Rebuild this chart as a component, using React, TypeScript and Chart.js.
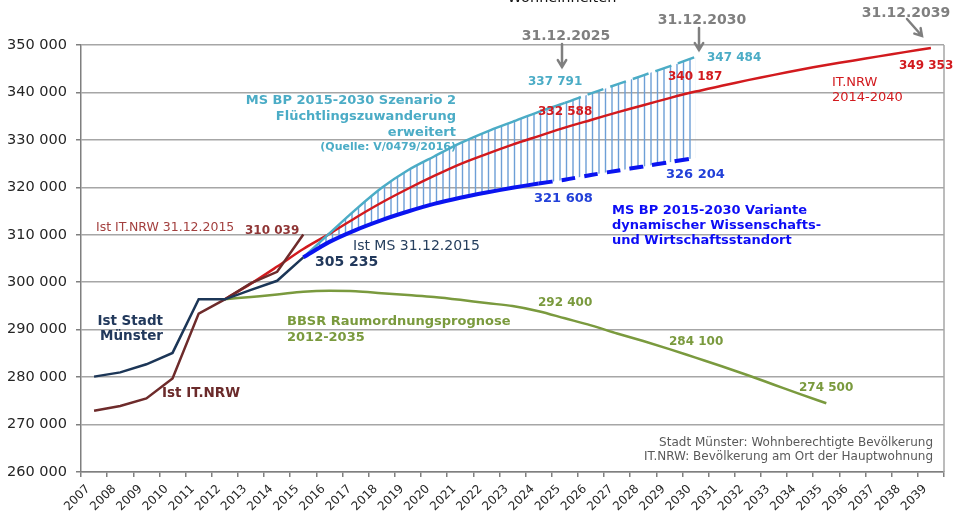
import React, { useEffect, useRef } from "react";
import { Chart, registerables } from "chart.js";

Chart.register(...registerables);

const FONT = "'DejaVu Sans', Verdana, sans-serif";

const years = [
  "2007", "2008", "2009", "2010", "2011", "2012", "2013", "2014", "2015", "2016", "2017",
  "2018", "2019", "2020", "2021", "2022", "2023", "2024", "2025", "2026", "2027", "2028",
  "2029", "2030", "2031", "2032", "2033", "2034", "2035", "2036", "2037", "2038", "2039",
];

const N = null;

// Ist Stadt Münster (2007-2015)
const istStadtMuenster = [
  280100, 281000, 282700, 285100, 296400, 296400, 298400, 300300, 305235,
  N, N, N, N, N, N, N, N, N, N, N, N, N, N, N, N, N, N, N, N, N, N, N, N,
];

// Ist IT.NRW (2007-2015)
const istItNrw = [
  272900, 273900, 275500, 279700, 293400, 296400, 299800, 302200, 310039,
  N, N, N, N, N, N, N, N, N, N, N, N, N, N, N, N, N, N, N, N, N, N, N, N,
];

// IT.NRW 2014-2040 Prognose
const itNrwPrognose = [
  N, N, N, N, N, 296400, 299700, 303300, 307000, 310200, 313600, 316800, 319700, 322400,
  324900, 327000, 329000, 330800, 332588, 334200, 335800, 337300, 338800, 340187, 341400,
  342600, 343700, 344800, 345800, 346700, 347600, 348500, 349353,
];

// MS BP 2015-2030 Szenario 2 Flüchtlingszuwanderung erweitert
const szenario2 = [
  N, N, N, N, N, N, N, N, 305235, 310300, 315300, 319900, 323600, 326500, 329300, 331700,
  333800, 335900, 337791, 339800, 341700, 343600, 345500, 347484,
  N, N, N, N, N, N, N, N, N,
];

// MS BP 2015-2030 Variante dynamischer Wissenschafts- und Wirtschaftsstandort
const varianteDynamisch = [
  N, N, N, N, N, N, N, N, 305235, 308500, 311000, 313100, 314900, 316500, 317800, 318900,
  319900, 320800, 321608, 322600, 323500, 324400, 325300, 326204,
  N, N, N, N, N, N, N, N, N,
];

// BBSR Raumordnungsprognose 2012-2035
const bbsr = [
  N, N, N, N, N, 296400, 296900, 297400, 298000, 298200, 298100, 297700, 297300, 296900,
  296300, 295600, 295000, 293900, 292400, 290900, 289200, 287600, 285900, 284100, 282300,
  280400, 278400, 276400, 274500, N, N, N, N,
];

const yMin = 260000;
const yMax = 350000;
const yStep = 10000;

const fmt = (v: number) => String(Math.round(v)).replace(/\B(?=(\d{3})+(?!\d))/g, " ");

const C_NAVY = "#1c3657";
const C_BROWN = "#6e2b2b";
const C_RED = "#d21a1e";
const C_CYAN = "#4bacc6";
const C_BLUE = "#0a14f0";
const C_BLUE_TXT = "#2240d8";
const C_GREEN = "#7a9a3e";
const C_GRAY = "#7f7f7f";
const C_HATCH = "#6d9fd6";

function makeHatch(): CanvasPattern | string {
  const c = document.createElement("canvas");
  c.width = 13;
  c.height = 8;
  const g = c.getContext("2d");
  if (!g) return C_HATCH;
  g.strokeStyle = C_HATCH;
  g.lineWidth = 1.4;
  g.beginPath();
  g.moveTo(1, 0);
  g.lineTo(1, 8);
  g.moveTo(7.5, 0);
  g.lineTo(7.5, 8);
  g.stroke();
  const p = g.createPattern(c, "repeat");
  return p || C_HATCH;
}

type Txt = { t: string; x: number; y: number; f: string; c: string; a?: CanvasTextAlign };

const annotationPlugin = {
  id: "annotationsPlugin",
  afterDraw(chart: any) {
    const ctx: CanvasRenderingContext2D = chart.ctx;
    const area = chart.chartArea;
    ctx.save();
    // right frame line
    ctx.strokeStyle = "#a6a6a6";
    ctx.lineWidth = 1.5;
    ctx.beginPath();
    ctx.moveTo(area.right, area.top);
    ctx.lineTo(area.right, area.bottom);
    ctx.stroke();

    const b = (s: number) => `bold ${s}px ${FONT}`;
    const r = (s: number) => `${s}px ${FONT}`;

    const texts: Txt[] = [
      { t: "31.12.2025", x: 566, y: 36, f: b(14), c: C_GRAY, a: "center" },
      { t: "31.12.2030", x: 702, y: 20.5, f: b(14), c: C_GRAY, a: "center" },
      { t: "31.12.2039", x: 906, y: 13, f: b(14), c: C_GRAY, a: "center" },

      { t: "MS BP 2015-2030 Szenario 2", x: 456, y: 101, f: b(13), c: C_CYAN, a: "right" },
      { t: "Flüchtlingszuwanderung", x: 456, y: 117, f: b(13), c: C_CYAN, a: "right" },
      { t: "erweitert", x: 456, y: 133, f: b(13), c: C_CYAN, a: "right" },
      { t: "(Quelle: V/0479/2016)", x: 456, y: 147.5, f: b(11), c: C_CYAN, a: "right" },

      { t: fmt(szenario2[18] as number), x: 528, y: 82, f: b(12), c: C_CYAN, a: "left" },
      { t: fmt(szenario2[23] as number), x: 707, y: 58, f: b(12), c: C_CYAN, a: "left" },

      { t: fmt(itNrwPrognose[18] as number), x: 538, y: 112, f: b(12), c: C_RED, a: "left" },
      { t: fmt(itNrwPrognose[23] as number), x: 668, y: 77, f: b(12), c: C_RED, a: "left" },
      { t: fmt(itNrwPrognose[32] as number), x: 899, y: 66, f: b(12), c: C_RED, a: "left" },
      { t: "IT.NRW", x: 832, y: 82.5, f: r(13), c: C_RED, a: "left" },
      { t: "2014-2040", x: 832, y: 98, f: r(13), c: C_RED, a: "left" },

      { t: fmt(varianteDynamisch[18] as number), x: 534, y: 198.5, f: b(13), c: C_BLUE_TXT, a: "left" },
      { t: fmt(varianteDynamisch[23] as number), x: 666, y: 175, f: b(13), c: C_BLUE_TXT, a: "left" },
      { t: "MS BP 2015-2030 Variante", x: 612, y: 210.5, f: b(13), c: "#0d0df5", a: "left" },
      { t: "dynamischer Wissenschafts-", x: 612, y: 225.5, f: b(13), c: "#0d0df5", a: "left" },
      { t: "und Wirtschaftsstandort", x: 612, y: 241, f: b(13), c: "#0d0df5", a: "left" },

      { t: "Ist IT.NRW 31.12.2015", x: 96, y: 228, f: r(12.5), c: "#a3403f", a: "left" },
      { t: fmt(istItNrw[8] as number), x: 245, y: 230.5, f: b(12), c: "#8f3535", a: "left" },
      { t: "Ist MS 31.12.2015", x: 353, y: 246, f: r(14), c: "#263f5e", a: "left" },
      { t: fmt(istStadtMuenster[8] as number), x: 315, y: 262.5, f: b(14), c: "#22395c", a: "left" },

      { t: "Ist Stadt", x: 163, y: 321, f: b(13.5), c: "#22395c", a: "right" },
      { t: "Münster", x: 163, y: 336.5, f: b(13.5), c: "#22395c", a: "right" },
      { t: "Ist IT.NRW", x: 162, y: 393.5, f: b(13.5), c: "#6b2b2b", a: "left" },

      { t: "BBSR Raumordnungsprognose", x: 287, y: 322, f: b(13), c: C_GREEN, a: "left" },
      { t: "2012-2035", x: 287, y: 337.5, f: b(13), c: C_GREEN, a: "left" },
      { t: fmt(bbsr[18] as number), x: 538, y: 303, f: b(12), c: C_GREEN, a: "left" },
      { t: fmt(bbsr[23] as number), x: 669, y: 342, f: b(12), c: C_GREEN, a: "left" },
      { t: fmt(bbsr[28] as number), x: 799, y: 388, f: b(12), c: C_GREEN, a: "left" },

      { t: "Stadt Münster: Wohnberechtigte Bevölkerung", x: 933, y: 442.5, f: r(12), c: "#595959", a: "right" },
      { t: "IT.NRW: Bevölkerung am Ort der Hauptwohnung", x: 933, y: 456.5, f: r(12), c: "#595959", a: "right" },
    ];

    ctx.textBaseline = "middle";
    for (const t of texts) {
      ctx.font = t.f;
      ctx.fillStyle = t.c;
      ctx.textAlign = t.a || "left";
      ctx.fillText(t.t, t.x, t.y);
    }

    // partially visible heading at the very top (cut by the page edge)
    ctx.font = r(14.5);
    ctx.fillStyle = "#111";
    ctx.textAlign = "center";
    ctx.textBaseline = "alphabetic";
    ctx.fillText("Wohneinheiten", 562, 1.5);

    // arrows
    const arrow = (x1: number, y1: number, x2: number, y2: number) => {
      const ang = Math.atan2(y2 - y1, x2 - x1);
      const h = 8;
      ctx.strokeStyle = C_GRAY;
      ctx.lineWidth = 2.5;
      ctx.lineCap = "round";
      ctx.beginPath();
      ctx.moveTo(x1, y1);
      ctx.lineTo(x2, y2);
      ctx.moveTo(x2 - h * Math.cos(ang - 0.55), y2 - h * Math.sin(ang - 0.55));
      ctx.lineTo(x2, y2);
      ctx.lineTo(x2 - h * Math.cos(ang + 0.55), y2 - h * Math.sin(ang + 0.55));
      ctx.stroke();
    };
    arrow(562, 44, 562, 67);
    arrow(699, 28, 699, 50);
    arrow(907, 19, 922, 36);

    ctx.restore();
  },
};

export default function App() {
  const ref = useRef<HTMLCanvasElement | null>(null);

  useEffect(() => {
    if (!ref.current) return;
    const hatch = makeHatch();
    const line = (extra: any) => ({
      pointRadius: 0,
      pointHoverRadius: 0,
      spanGaps: false,
      fill: false,
      ...extra,
    });
    const chart = new Chart(ref.current, {
      type: "line",
      data: {
        labels: years,
        datasets: [
          line({
            label: "IT.NRW 2014-2040",
            data: itNrwPrognose,
            borderColor: C_RED,
            borderWidth: 2.5,
            tension: 0.3,
            order: 6,
          }),
          line({
            label: "MS BP 2015-2030 Szenario 2",
            data: szenario2,
            borderColor: C_CYAN,
            borderWidth: 2.5,
            tension: 0.3,
            fill: { target: 2, above: hatch, below: hatch },
            backgroundColor: hatch,
            segment: {
              borderDash: (c: any) => (c.p0DataIndex >= 18 ? [17, 7] : undefined),
            },
            order: 5,
          }),
          line({
            label: "MS BP 2015-2030 Variante",
            data: varianteDynamisch,
            borderColor: C_BLUE,
            borderWidth: 4,
            tension: 0.3,
            segment: {
              borderDash: (c: any) => (c.p0DataIndex >= 17 ? [14, 9] : undefined),
            },
            order: 4,
          }),
          line({
            label: "BBSR Raumordnungsprognose 2012-2035",
            data: bbsr,
            borderColor: C_GREEN,
            borderWidth: 2.5,
            cubicInterpolationMode: "monotone",
            order: 3,
          }),
          line({
            label: "Ist IT.NRW",
            data: istItNrw,
            borderColor: C_BROWN,
            borderWidth: 2.5,
            tension: 0,
            order: 2,
          }),
          line({
            label: "Ist Stadt Münster",
            data: istStadtMuenster,
            borderColor: C_NAVY,
            borderWidth: 2.5,
            tension: 0,
            order: 1,
          }),
        ],
      },
      options: {
        animation: false,
        responsive: false,
        devicePixelRatio: 1,
        events: [],
        layout: { padding: { top: 45, right: 9, left: 0, bottom: 0 } },
        plugins: {
          legend: { display: false },
          tooltip: { enabled: false },
          title: { display: false },
          filler: { drawTime: "beforeDatasetsDraw" },
        } as any,
        scales: {
          x: {
            type: "category",
            offset: true,
            grid: {
              display: true,
              drawOnChartArea: false,
              drawTicks: true,
              tickLength: 5,
              offset: true,
              color: "#7f7f7f",
              lineWidth: 1.5,
            },
            border: { display: true, color: "#7f7f7f", width: 1.5 },
            ticks: {
              autoSkip: false,
              minRotation: 45,
              maxRotation: 45,
              padding: 5,
              labelOffset: -6,
              color: "#262626",
              font: { family: FONT, size: 12 },
            },
            afterFit: (s: any) => {
              s.height = 50;
            },
          },
          y: {
            min: yMin,
            max: yMax,
            ticks: {
              stepSize: yStep,
              padding: 9,
              color: "#262626",
              font: { family: FONT, size: 14.5 },
              callback: (v: any) => fmt(Number(v)),
            },
            grid: {
              color: "#a6a6a6",
              lineWidth: 1.5,
              tickLength: 5,
              tickColor: "#7f7f7f",
            },
            border: { display: true, color: "#7f7f7f", width: 1.5 },
            afterFit: (s: any) => {
              s.width = 81;
            },
          },
        },
      } as any,
      plugins: [annotationPlugin],
    });
    return () => chart.destroy();
  }, []);

  return (
    <canvas
      ref={ref}
      width={953}
      height={522}
      style={{ position: "fixed", left: 0, top: 0, width: "953px", height: "522px", background: "#fff" }}
    />
  );
}
